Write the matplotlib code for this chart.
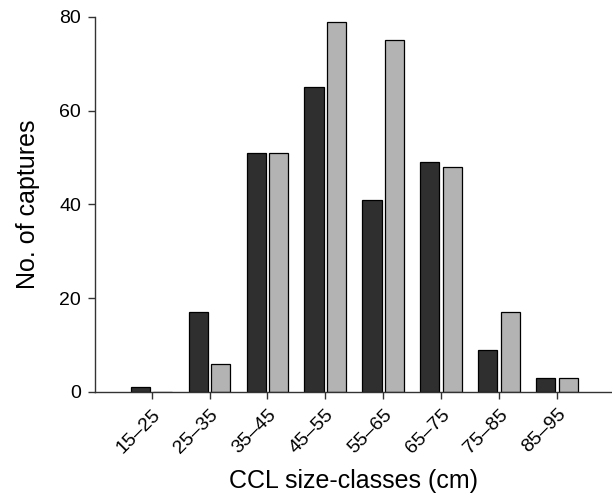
""" plot.py """

import numpy as np
import matplotlib.pyplot as plt

plt.rcParams['font.family'] = ['Liberation Sans', 'DejaVu Sans']

classes = ['15–25', '25–35', '35–45', '45–55', '55–65', '65–75', '75–85', '85–95']
dark_vals = [1, 17, 51, 65, 41, 49, 9, 3]
light_vals = [0, 6, 51, 79, 75, 48, 17, 3]

x = np.arange(len(classes))
w = 0.33

fig = plt.figure(figsize=(6.12, 4.98), dpi=100)
ax = fig.add_axes([0.155, 0.213, 0.845, 0.753])

ax.bar(x - 0.195, dark_vals, w, color='#2f2f2f', edgecolor='black', linewidth=0.9)
ax.bar(x + 0.195, light_vals, w, color='#b3b3b3', edgecolor='black', linewidth=0.9)

ax.set_xlim(-0.98, 7.95)
ax.set_ylim(0, 80)
ax.set_yticks([0, 20, 40, 60, 80])
ax.set_xticks(x)
ax.set_xticklabels(classes, rotation=45, ha='right', rotation_mode='anchor')

for s in ['top', 'right']:
    ax.spines[s].set_visible(False)
for s in ['left', 'bottom']:
    ax.spines[s].set_color('#333333')
    ax.spines[s].set_linewidth(1.0)
ax.tick_params(direction='out', length=5, width=1.0, color='#333333',
               labelsize=14, pad=5)

ax.set_ylabel('No. of captures', fontsize=18, labelpad=14)
ax.set_xlabel('CCL size-classes (cm)', fontsize=18, labelpad=9)

plt.savefig('out.png')
